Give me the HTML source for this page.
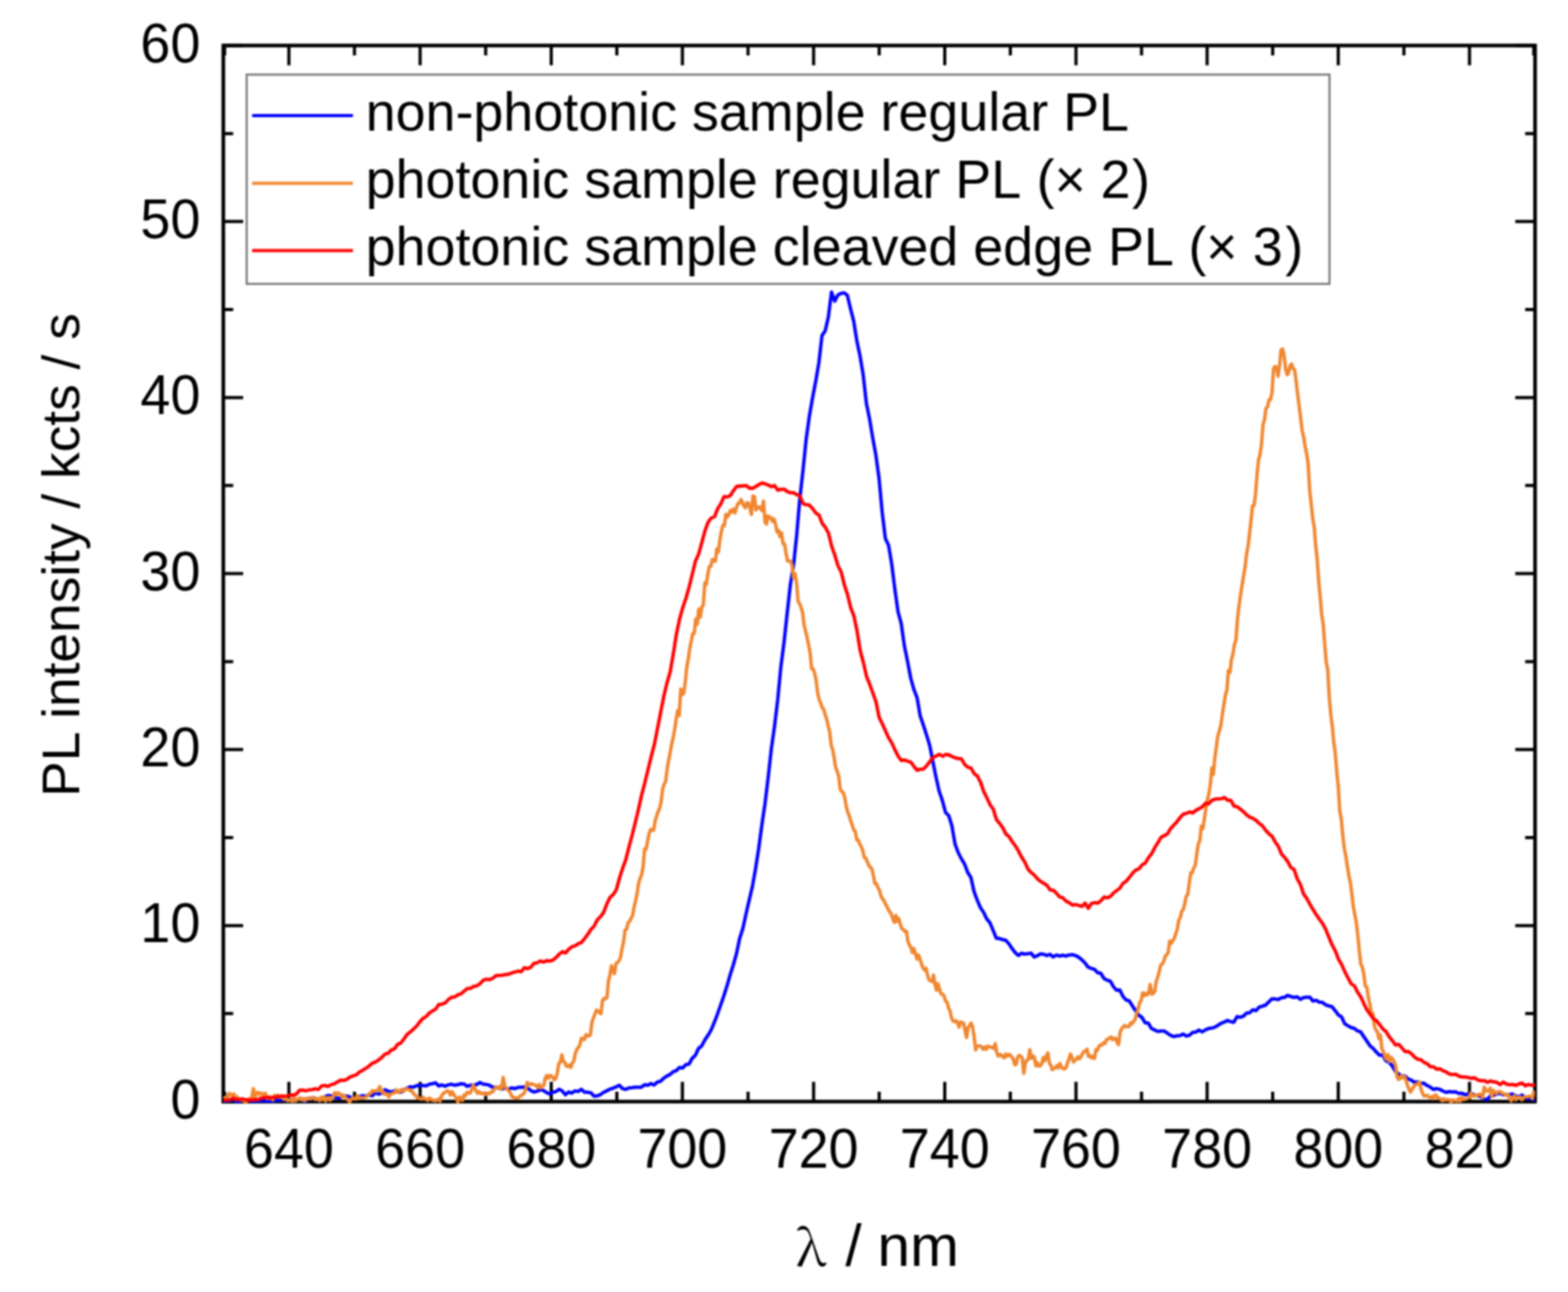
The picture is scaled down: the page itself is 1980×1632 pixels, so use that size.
<!DOCTYPE html>
<html><head><meta charset="utf-8"><title>PL spectra</title>
<style>
html,body{margin:0;padding:0;background:#fff;}
svg{display:block;filter:blur(1px);}
svg{font-family:"Liberation Sans",Arial,sans-serif;} text{fill:#000;}
</style></head>
<body>
<svg width="1980" height="1632" viewBox="0 0 1980 1632">
<rect width="1980" height="1632" fill="#ffffff"/>
<defs><clipPath id="pa"><rect x="282.0" y="57.5" width="1656.4" height="1337.0"/></clipPath></defs>
<path d="M283.6,1391.5V1379.0M283.6,57.5V70.0M364.8,1391.5V1366.5M364.8,57.5V82.5M447.6,1391.5V1379.0M447.6,57.5V70.0M530.5,1391.5V1366.5M530.5,57.5V82.5M613.3,1391.5V1379.0M613.3,57.5V70.0M696.1,1391.5V1366.5M696.1,57.5V82.5M778.9,1391.5V1379.0M778.9,57.5V70.0M861.7,1391.5V1366.5M861.7,57.5V82.5M944.6,1391.5V1379.0M944.6,57.5V70.0M1027.4,1391.5V1366.5M1027.4,57.5V82.5M1110.2,1391.5V1379.0M1110.2,57.5V70.0M1193.0,1391.5V1366.5M1193.0,57.5V82.5M1275.8,1391.5V1379.0M1275.8,57.5V70.0M1358.7,1391.5V1366.5M1358.7,57.5V82.5M1441.5,1391.5V1379.0M1441.5,57.5V70.0M1524.3,1391.5V1366.5M1524.3,57.5V82.5M1607.1,1391.5V1379.0M1607.1,57.5V70.0M1689.9,1391.5V1366.5M1689.9,57.5V82.5M1772.8,1391.5V1379.0M1772.8,57.5V70.0M1855.6,1391.5V1366.5M1855.6,57.5V82.5M1936.8,1391.5V1379.0M1936.8,57.5V70.0M282.0,1391.5H307.0M1938.4,1391.5H1913.4M282.0,1280.3H294.5M1938.4,1280.3H1925.9M282.0,1169.2H307.0M1938.4,1169.2H1913.4M282.0,1058.0H294.5M1938.4,1058.0H1925.9M282.0,946.8H307.0M1938.4,946.8H1913.4M282.0,835.7H294.5M1938.4,835.7H1925.9M282.0,724.5H307.0M1938.4,724.5H1913.4M282.0,613.3H294.5M1938.4,613.3H1925.9M282.0,502.2H307.0M1938.4,502.2H1913.4M282.0,391.0H294.5M1938.4,391.0H1925.9M282.0,279.8H307.0M1938.4,279.8H1913.4M282.0,168.7H294.5M1938.4,168.7H1925.9M282.0,57.5H307.0M1938.4,57.5H1913.4" stroke="#000" stroke-width="4" fill="none"/>
<rect x="282.0" y="57.5" width="1656.4" height="1334.0" fill="none" stroke="#000" stroke-width="4.6"/>
<g font-size="68">
<text transform="translate(364.8,1474.5) scale(1,1.04)" text-anchor="middle">640</text>
<text transform="translate(530.5,1474.5) scale(1,1.04)" text-anchor="middle">660</text>
<text transform="translate(696.1,1474.5) scale(1,1.04)" text-anchor="middle">680</text>
<text transform="translate(861.7,1474.5) scale(1,1.04)" text-anchor="middle">700</text>
<text transform="translate(1027.4,1474.5) scale(1,1.04)" text-anchor="middle">720</text>
<text transform="translate(1193.0,1474.5) scale(1,1.04)" text-anchor="middle">740</text>
<text transform="translate(1358.7,1474.5) scale(1,1.04)" text-anchor="middle">760</text>
<text transform="translate(1524.3,1474.5) scale(1,1.04)" text-anchor="middle">780</text>
<text transform="translate(1689.9,1474.5) scale(1,1.04)" text-anchor="middle">800</text>
<text transform="translate(1855.6,1474.5) scale(1,1.04)" text-anchor="middle">820</text>
<text transform="translate(253,1412.5) scale(1,1.04)" text-anchor="end">0</text>
<text transform="translate(253,1190.2) scale(1,1.04)" text-anchor="end">10</text>
<text transform="translate(253,967.8) scale(1,1.04)" text-anchor="end">20</text>
<text transform="translate(253,745.5) scale(1,1.04)" text-anchor="end">30</text>
<text transform="translate(253,523.2) scale(1,1.04)" text-anchor="end">40</text>
<text transform="translate(253,300.8) scale(1,1.04)" text-anchor="end">50</text>
<text transform="translate(253,78.5) scale(1,1.04)" text-anchor="end">60</text>
</g>
<g clip-path="url(#pa)" fill="none" stroke-width="4.3" stroke-linejoin="round" stroke-linecap="round">
<polyline stroke="#0000ff" points="282.0,1391.2 286.0,1390.2 290.0,1390.0 294.0,1387.8 298.0,1391.7 302.0,1391.1 306.0,1389.8 310.0,1391.0 314.0,1390.7 318.0,1390.1 322.0,1391.7 326.0,1390.7 330.0,1390.7 334.0,1390.2 338.0,1391.2 342.0,1390.5 346.0,1390.8 350.0,1389.4 354.0,1389.8 358.0,1388.6 362.0,1390.0 366.0,1389.2 370.0,1389.3 374.0,1389.4 378.0,1388.0 382.0,1389.8 386.0,1391.0 390.0,1387.4 394.0,1387.3 398.0,1387.5 402.0,1389.5 406.0,1387.0 410.0,1385.7 414.0,1383.8 418.0,1384.1 422.0,1386.4 426.0,1386.8 430.0,1387.3 434.0,1384.4 438.0,1384.6 442.0,1385.6 446.0,1388.2 450.0,1386.2 454.0,1385.0 458.0,1384.0 462.0,1384.7 466.0,1382.9 470.0,1384.1 474.0,1380.2 478.0,1382.2 482.0,1380.4 486.0,1376.5 490.0,1378.2 494.0,1379.3 498.0,1378.1 502.0,1379.0 506.0,1379.8 510.0,1376.5 514.0,1374.7 518.0,1372.8 522.0,1373.2 526.0,1371.5 530.0,1371.2 534.0,1371.1 538.0,1371.7 542.0,1369.6 546.0,1368.9 550.0,1367.8 554.0,1371.8 558.0,1370.4 562.0,1372.0 566.0,1370.3 570.0,1369.5 574.0,1370.8 578.0,1370.2 582.0,1368.9 586.0,1369.3 590.0,1372.3 594.0,1370.7 598.0,1370.8 602.0,1369.8 606.0,1367.4 610.0,1369.4 614.0,1369.8 618.0,1370.9 622.0,1373.3 626.0,1373.1 630.0,1374.6 634.0,1375.8 638.0,1373.8 642.0,1376.4 646.0,1374.2 650.0,1375.2 654.0,1373.6 658.0,1373.3 662.0,1373.1 666.0,1374.3 670.0,1377.4 674.0,1379.3 678.0,1378.5 682.0,1376.5 686.0,1377.3 690.0,1380.1 694.0,1381.8 698.0,1379.6 702.0,1378.9 706.0,1375.9 710.0,1378.1 714.0,1382.8 718.0,1379.4 722.0,1380.8 726.0,1378.0 730.0,1378.7 734.0,1375.9 738.0,1379.5 742.0,1379.6 746.0,1380.3 750.0,1384.5 754.0,1384.3 758.0,1382.9 762.0,1379.9 766.0,1378.0 770.0,1375.8 774.0,1374.6 778.0,1372.9 782.0,1370.8 786.0,1375.0 790.0,1376.1 794.0,1374.3 798.0,1373.9 802.0,1373.4 806.0,1373.4 810.0,1373.3 814.0,1370.1 818.0,1370.8 822.0,1368.7 826.0,1370.5 830.0,1366.9 834.0,1365.9 838.0,1362.0 842.0,1359.2 846.0,1357.3 850.0,1353.8 854.0,1352.4 858.0,1348.3 862.0,1349.1 866.0,1344.8 870.0,1344.2 874.0,1336.9 878.0,1333.2 882.0,1324.5 886.0,1321.3 890.0,1313.7 894.0,1307.8 898.0,1301.0 902.0,1291.4 906.0,1280.9 910.0,1269.6 914.0,1258.0 918.0,1245.4 922.0,1231.4 926.0,1218.8 930.0,1204.7 934.0,1185.4 938.0,1173.0 942.0,1154.6 946.0,1137.3 950.0,1120.3 954.0,1097.9 958.0,1072.1 962.0,1042.4 966.0,1015.3 970.0,982.3 974.0,946.0 978.0,917.8 982.0,884.4 986.0,842.7 990.0,811.8 994.0,774.8 998.0,738.7 1002.0,714.5 1006.0,676.3 1010.0,629.6 1014.0,593.9 1018.0,554.7 1022.0,525.9 1026.0,502.9 1030.0,482.0 1034.0,458.5 1038.0,423.8 1042.0,418.0 1046.0,400.4 1050.0,369.0 1054.0,380.4 1058.0,372.7 1062.0,370.6 1066.0,369.9 1070.0,373.0 1074.0,390.0 1078.0,405.5 1082.0,430.6 1086.0,449.6 1090.0,473.5 1094.0,509.2 1098.0,528.9 1102.0,553.0 1106.0,574.7 1110.0,603.9 1114.0,647.2 1118.0,680.3 1122.0,688.6 1126.0,712.4 1130.0,744.3 1134.0,772.8 1138.0,787.5 1142.0,815.7 1146.0,835.4 1150.0,856.5 1154.0,870.8 1158.0,881.2 1162.0,904.4 1166.0,916.0 1170.0,928.3 1174.0,941.6 1178.0,962.0 1182.0,981.9 1186.0,999.6 1190.0,1011.3 1194.0,1026.2 1198.0,1030.2 1202.0,1043.2 1206.0,1066.3 1210.0,1076.9 1214.0,1084.9 1218.0,1091.4 1222.0,1102.0 1226.0,1108.4 1230.0,1126.3 1234.0,1137.0 1238.0,1146.4 1242.0,1152.4 1246.0,1160.7 1250.0,1165.5 1254.0,1175.0 1258.0,1185.0 1262.0,1185.5 1266.0,1186.9 1270.0,1187.7 1274.0,1192.1 1278.0,1198.2 1282.0,1203.3 1286.0,1206.9 1290.0,1204.1 1294.0,1205.2 1298.0,1204.7 1302.0,1204.0 1306.0,1208.8 1310.0,1207.2 1314.0,1204.9 1318.0,1205.4 1322.0,1207.0 1326.0,1205.5 1330.0,1208.8 1334.0,1206.3 1338.0,1207.7 1342.0,1206.7 1346.0,1207.6 1350.0,1206.3 1354.0,1205.9 1358.0,1207.0 1362.0,1209.0 1366.0,1212.4 1370.0,1216.2 1374.0,1221.6 1378.0,1223.3 1382.0,1224.4 1386.0,1228.6 1390.0,1229.4 1394.0,1235.9 1398.0,1238.1 1402.0,1239.2 1406.0,1246.4 1410.0,1250.9 1414.0,1250.5 1418.0,1258.6 1422.0,1263.1 1426.0,1264.3 1430.0,1270.7 1434.0,1276.7 1438.0,1282.4 1442.0,1285.1 1446.0,1291.9 1450.0,1292.4 1454.0,1299.1 1458.0,1301.0 1462.0,1302.9 1466.0,1302.3 1470.0,1302.4 1474.0,1304.9 1478.0,1307.7 1482.0,1309.3 1486.0,1308.3 1490.0,1308.2 1494.0,1306.1 1498.0,1308.7 1502.0,1307.6 1506.0,1304.1 1510.0,1303.6 1514.0,1301.2 1518.0,1303.5 1522.0,1301.0 1526.0,1299.2 1530.0,1298.7 1534.0,1297.5 1538.0,1295.1 1542.0,1292.6 1546.0,1291.1 1550.0,1289.0 1554.0,1290.5 1558.0,1291.3 1562.0,1284.2 1566.0,1285.0 1570.0,1283.6 1574.0,1279.7 1578.0,1279.3 1582.0,1275.5 1586.0,1276.6 1590.0,1272.1 1594.0,1271.0 1598.0,1269.6 1602.0,1265.7 1606.0,1261.7 1610.0,1261.9 1614.0,1262.6 1618.0,1260.4 1622.0,1259.9 1626.0,1257.4 1630.0,1258.8 1634.0,1259.8 1638.0,1259.1 1642.0,1262.4 1646.0,1260.1 1650.0,1259.7 1654.0,1259.7 1658.0,1264.5 1662.0,1263.5 1666.0,1265.9 1670.0,1266.2 1674.0,1269.2 1678.0,1270.7 1682.0,1271.6 1686.0,1276.6 1690.0,1282.1 1694.0,1284.4 1698.0,1293.0 1702.0,1295.7 1706.0,1297.8 1710.0,1298.8 1714.0,1302.1 1718.0,1303.2 1722.0,1309.2 1726.0,1315.0 1730.0,1321.1 1734.0,1324.4 1738.0,1329.0 1742.0,1332.9 1746.0,1332.7 1750.0,1339.9 1754.0,1341.8 1758.0,1346.3 1762.0,1353.1 1766.0,1356.5 1770.0,1359.4 1774.0,1359.0 1778.0,1362.6 1782.0,1364.4 1786.0,1367.1 1790.0,1366.7 1794.0,1368.5 1798.0,1368.2 1802.0,1371.2 1806.0,1373.2 1810.0,1376.1 1814.0,1375.1 1818.0,1376.0 1822.0,1378.1 1826.0,1379.9 1830.0,1378.8 1834.0,1379.3 1838.0,1379.1 1842.0,1381.1 1846.0,1381.0 1850.0,1382.8 1854.0,1381.9 1858.0,1381.5 1862.0,1383.1 1866.0,1384.0 1870.0,1385.1 1874.0,1388.6 1878.0,1388.7 1882.0,1384.3 1886.0,1383.5 1890.0,1382.0 1894.0,1381.0 1898.0,1382.8 1902.0,1382.8 1906.0,1382.6 1910.0,1382.0 1914.0,1384.5 1918.0,1385.4 1922.0,1383.2 1926.0,1387.1 1930.0,1388.0 1934.0,1387.8 1938.0,1389.3"/>
<polyline stroke="#f0862f" points="282.0,1387.5 283.9,1386.4 285.8,1387.0 287.7,1384.6 289.6,1381.0 291.5,1382.9 293.4,1382.9 295.3,1381.8 297.2,1386.4 299.1,1385.3 301.0,1388.0 302.9,1389.0 304.8,1389.2 306.7,1390.0 308.6,1390.9 310.5,1392.5 312.4,1388.7 314.3,1389.1 316.2,1388.0 318.1,1384.9 320.0,1375.2 321.9,1387.3 323.8,1380.6 325.7,1379.7 327.6,1382.5 329.5,1380.6 331.4,1381.5 333.3,1384.5 335.2,1380.9 337.1,1387.6 339.0,1387.4 340.9,1385.4 342.8,1387.8 344.7,1389.2 346.6,1383.7 348.5,1384.7 350.4,1383.2 352.3,1385.3 354.2,1385.9 356.1,1384.5 358.0,1388.4 359.9,1388.2 361.8,1389.1 363.7,1390.4 365.6,1388.8 367.5,1390.0 369.4,1391.0 371.3,1386.6 373.2,1390.6 375.1,1388.4 377.0,1388.6 378.9,1386.8 380.8,1389.2 382.7,1387.6 384.6,1390.3 386.5,1387.3 388.4,1388.3 390.3,1387.7 392.2,1388.3 394.1,1386.4 396.0,1386.2 397.9,1388.7 399.8,1388.7 401.7,1387.7 403.6,1390.2 405.5,1386.0 407.4,1389.0 409.3,1385.4 411.2,1390.8 413.1,1386.9 415.0,1386.4 416.9,1389.8 418.8,1386.2 420.7,1385.6 422.6,1380.3 424.5,1382.9 426.4,1380.3 428.3,1381.5 430.2,1382.1 432.1,1386.3 434.0,1383.4 435.9,1385.9 437.8,1387.5 439.7,1389.8 441.6,1391.9 443.5,1388.7 445.4,1386.6 447.3,1387.8 449.2,1388.3 451.1,1383.9 453.0,1387.7 454.9,1386.3 456.8,1386.8 458.7,1386.8 460.6,1386.5 462.5,1385.2 464.4,1384.3 466.3,1381.3 468.2,1381.3 470.1,1377.7 472.0,1378.6 473.9,1377.8 475.8,1378.4 477.7,1376.7 479.6,1372.4 481.5,1378.8 483.4,1378.5 485.3,1382.3 487.2,1381.9 489.1,1382.5 491.0,1385.6 492.9,1382.3 494.8,1381.5 496.7,1380.7 498.6,1380.3 500.5,1376.6 502.4,1378.4 504.3,1380.2 506.2,1376.5 508.1,1376.5 510.0,1378.4 511.9,1376.1 513.8,1375.1 515.7,1376.1 517.6,1377.6 519.5,1377.0 521.4,1380.6 523.3,1382.5 525.2,1384.2 527.1,1386.9 529.0,1386.6 530.9,1388.1 532.8,1388.3 534.7,1386.1 536.6,1388.5 538.5,1388.6 540.4,1390.0 542.3,1387.0 544.2,1388.1 546.1,1389.8 548.0,1389.6 549.9,1390.6 551.8,1389.4 553.7,1388.1 555.6,1390.9 557.5,1384.7 559.4,1381.5 561.3,1380.2 563.2,1379.0 565.1,1377.7 567.0,1379.4 568.9,1383.4 570.8,1379.0 572.7,1382.2 574.6,1384.6 576.5,1387.6 578.4,1392.5 580.3,1385.6 582.2,1388.1 584.1,1389.9 586.0,1382.9 587.9,1384.3 589.8,1379.7 591.7,1380.3 593.6,1380.8 595.5,1377.1 597.4,1370.7 599.3,1374.4 601.2,1378.1 603.1,1381.0 605.0,1378.7 606.9,1381.3 608.8,1381.0 610.7,1380.8 612.6,1382.8 614.5,1381.1 616.4,1380.8 618.3,1381.6 620.2,1379.2 622.1,1379.3 624.0,1376.6 625.9,1373.2 627.8,1373.6 629.7,1374.9 631.6,1371.9 633.5,1375.6 635.4,1360.8 637.3,1371.2 639.2,1374.7 641.1,1376.5 643.0,1378.5 644.9,1381.6 646.8,1385.6 648.7,1386.1 650.6,1386.8 652.5,1387.2 654.4,1387.0 656.3,1384.5 658.2,1384.2 660.1,1382.3 662.0,1380.7 663.9,1375.8 665.8,1367.3 667.7,1369.4 669.6,1370.1 671.5,1368.9 673.4,1370.0 675.3,1370.3 677.2,1371.4 679.1,1373.8 681.0,1369.8 682.9,1374.0 684.8,1371.9 686.7,1371.1 688.6,1361.5 690.5,1358.6 692.4,1362.2 694.3,1358.6 696.2,1358.9 698.1,1361.2 700.0,1363.9 701.9,1362.0 703.8,1355.1 705.7,1343.3 707.6,1341.6 709.5,1332.4 711.4,1340.8 713.3,1342.3 715.2,1346.6 717.1,1347.1 719.0,1345.3 720.9,1348.4 722.8,1342.8 724.7,1339.8 726.6,1330.2 728.5,1325.4 730.4,1323.1 732.3,1319.7 734.2,1311.5 736.1,1312.5 738.0,1313.2 739.9,1307.0 741.8,1307.9 743.7,1308.9 745.6,1306.8 747.5,1291.1 749.4,1285.6 751.3,1280.8 753.2,1276.0 755.1,1277.0 757.0,1279.0 758.9,1280.5 760.8,1263.7 762.7,1261.1 764.6,1261.7 766.5,1260.0 768.4,1238.6 770.3,1231.2 772.2,1219.9 774.1,1227.0 776.0,1229.7 777.9,1216.9 779.8,1216.0 781.7,1213.5 783.6,1209.2 785.5,1198.4 787.4,1189.8 789.3,1174.7 791.2,1173.9 793.1,1165.5 795.0,1164.0 796.9,1159.8 798.8,1156.7 800.7,1145.6 802.6,1138.0 804.5,1128.5 806.4,1116.1 808.3,1109.1 810.2,1105.1 812.1,1095.0 814.0,1072.5 815.9,1072.7 817.8,1062.2 819.7,1053.0 821.6,1047.6 823.5,1048.8 825.4,1048.7 827.3,1037.1 829.2,1030.6 831.1,1025.0 833.0,1020.9 834.9,1012.3 836.8,996.3 838.7,990.8 840.6,986.8 842.5,970.9 844.4,960.0 846.3,950.7 848.2,939.7 850.1,931.5 852.0,920.8 853.9,908.4 855.8,897.5 857.7,903.8 859.6,870.5 861.5,877.6 863.4,875.8 865.3,862.0 867.2,842.8 869.1,832.5 871.0,819.1 872.9,809.8 874.8,800.3 876.7,799.8 878.6,781.8 880.5,788.3 882.4,769.3 884.3,779.6 886.2,766.9 888.1,764.3 890.0,736.5 891.9,738.3 893.8,725.4 895.7,715.6 897.6,715.3 899.5,706.7 901.4,708.9 903.3,708.9 905.2,693.3 907.1,697.4 909.0,682.3 910.9,671.4 912.8,663.5 914.7,663.6 916.6,649.7 918.5,653.0 920.4,649.9 922.3,644.7 924.2,646.7 926.1,643.0 928.0,648.1 929.9,641.7 931.8,635.8 933.7,635.9 935.6,630.9 937.5,634.2 939.4,639.2 941.3,641.3 943.2,635.0 945.1,635.3 947.0,641.8 948.9,649.8 950.8,626.4 952.7,627.4 954.6,644.3 956.5,641.0 958.4,640.1 960.3,642.6 962.2,644.8 964.1,632.9 966.0,659.3 967.9,661.9 969.8,651.5 971.7,654.3 973.6,653.8 975.5,658.8 977.4,655.6 979.3,661.7 981.2,672.0 983.1,670.0 985.0,678.0 986.9,673.1 988.8,686.8 990.7,687.2 992.6,698.9 994.5,708.7 996.4,708.4 998.3,709.2 1000.2,713.9 1002.1,730.2 1004.0,724.6 1005.9,736.5 1007.8,759.1 1009.7,762.6 1011.6,767.3 1013.5,773.7 1015.4,789.8 1017.3,797.3 1019.2,805.5 1021.1,814.6 1023.0,824.9 1024.9,844.5 1026.8,845.1 1028.7,850.0 1030.6,859.7 1032.5,875.1 1034.4,883.6 1036.3,888.0 1038.2,893.9 1040.1,895.7 1042.0,902.7 1043.9,908.4 1045.8,917.0 1047.7,924.6 1049.6,941.5 1051.5,947.1 1053.4,957.5 1055.3,969.5 1057.2,974.3 1059.1,980.6 1061.0,996.9 1062.9,1000.0 1064.8,1000.9 1066.7,1007.7 1068.6,1018.4 1070.5,1025.9 1072.4,1030.5 1074.3,1037.0 1076.2,1042.2 1078.1,1048.5 1080.0,1049.9 1081.9,1060.9 1083.8,1061.4 1085.7,1066.2 1087.6,1069.3 1089.5,1074.4 1091.4,1083.4 1093.3,1083.8 1095.2,1088.6 1097.1,1093.0 1099.0,1095.9 1100.9,1097.0 1102.8,1105.5 1104.7,1115.9 1106.6,1116.1 1108.5,1121.0 1110.4,1124.1 1112.3,1131.5 1114.2,1135.2 1116.1,1137.2 1118.0,1141.8 1119.9,1144.8 1121.8,1149.0 1123.7,1152.0 1125.6,1154.7 1127.5,1160.9 1129.4,1165.1 1131.3,1156.2 1133.2,1163.7 1135.1,1160.4 1137.0,1168.0 1138.9,1173.1 1140.8,1174.3 1142.7,1176.5 1144.6,1176.3 1146.5,1189.1 1148.4,1193.6 1150.3,1196.8 1152.2,1203.5 1154.1,1198.3 1156.0,1204.6 1157.9,1211.4 1159.8,1206.2 1161.7,1211.3 1163.6,1217.6 1165.5,1222.4 1167.4,1225.4 1169.3,1223.0 1171.2,1231.5 1173.1,1237.7 1175.0,1238.8 1176.9,1240.0 1178.8,1231.8 1180.7,1243.9 1182.6,1250.9 1184.5,1242.5 1186.4,1249.5 1188.3,1255.4 1190.2,1256.1 1192.1,1257.8 1194.0,1264.6 1195.9,1265.6 1197.8,1273.5 1199.7,1276.6 1201.6,1285.9 1203.5,1289.9 1205.4,1290.4 1207.3,1289.2 1209.2,1292.2 1211.1,1297.5 1213.0,1290.7 1214.9,1292.5 1216.8,1292.1 1218.7,1302.3 1220.6,1310.5 1222.5,1297.7 1224.4,1295.8 1226.3,1292.3 1228.2,1297.6 1230.1,1309.4 1232.0,1326.2 1233.9,1321.4 1235.8,1321.2 1237.7,1321.1 1239.6,1323.0 1241.5,1325.3 1243.4,1322.6 1245.3,1325.5 1247.2,1321.4 1249.1,1322.3 1251.0,1322.6 1252.9,1323.3 1254.8,1324.5 1256.7,1318.3 1258.6,1329.3 1260.5,1333.9 1262.4,1332.2 1264.3,1332.2 1266.2,1335.0 1268.1,1336.2 1270.0,1331.6 1271.9,1334.2 1273.8,1331.9 1275.7,1332.6 1277.6,1335.3 1279.5,1337.6 1281.4,1345.0 1283.3,1344.2 1285.2,1335.0 1287.1,1333.1 1289.0,1334.1 1290.9,1336.3 1292.8,1355.8 1294.7,1342.9 1296.6,1339.5 1298.5,1338.0 1300.4,1325.9 1302.3,1336.9 1304.2,1333.8 1306.1,1335.2 1308.0,1346.4 1309.9,1342.4 1311.8,1346.7 1313.7,1346.2 1315.6,1343.6 1317.5,1335.6 1319.4,1339.8 1321.3,1333.9 1323.2,1330.0 1325.1,1343.0 1327.0,1345.6 1328.9,1351.2 1330.8,1349.4 1332.7,1349.0 1334.6,1345.8 1336.5,1349.0 1338.4,1343.4 1340.3,1347.7 1342.2,1349.9 1344.1,1350.2 1346.0,1348.8 1347.9,1343.1 1349.8,1337.7 1351.7,1331.4 1353.6,1335.6 1355.5,1341.5 1357.4,1339.7 1359.3,1337.8 1361.2,1334.9 1363.1,1337.5 1365.0,1334.9 1366.9,1331.0 1368.8,1328.1 1370.7,1328.1 1372.6,1325.2 1374.5,1334.4 1376.4,1333.5 1378.3,1336.2 1380.2,1334.1 1382.1,1337.0 1384.0,1325.7 1385.9,1326.6 1387.8,1321.6 1389.7,1319.9 1391.6,1320.1 1393.5,1317.3 1395.4,1318.1 1397.3,1313.0 1399.2,1312.7 1401.1,1310.9 1403.0,1309.9 1404.9,1313.3 1406.8,1311.5 1408.7,1311.4 1410.6,1316.9 1412.5,1319.5 1414.4,1304.0 1416.3,1299.7 1418.2,1297.1 1420.1,1295.3 1422.0,1296.9 1423.9,1296.6 1425.8,1296.5 1427.7,1292.3 1429.6,1293.0 1431.5,1290.1 1433.4,1287.6 1435.3,1279.6 1437.2,1274.6 1439.1,1266.4 1441.0,1264.0 1442.9,1254.2 1444.8,1257.7 1446.7,1254.8 1448.6,1256.8 1450.5,1254.4 1452.4,1243.5 1454.3,1255.6 1456.2,1255.0 1458.1,1252.2 1460.0,1239.8 1461.9,1234.6 1463.8,1227.6 1465.7,1219.1 1467.6,1217.8 1469.5,1214.5 1471.4,1207.9 1473.3,1206.1 1475.2,1202.7 1477.1,1188.6 1479.0,1191.6 1480.9,1188.3 1482.8,1185.3 1484.7,1179.3 1486.6,1173.7 1488.5,1162.3 1490.4,1159.0 1492.3,1150.9 1494.2,1148.8 1496.1,1141.4 1498.0,1132.0 1499.9,1129.7 1501.8,1115.3 1503.7,1102.4 1505.6,1102.4 1507.5,1096.2 1509.4,1092.7 1511.3,1078.3 1513.2,1066.2 1515.1,1061.7 1517.0,1043.3 1518.9,1046.9 1520.8,1034.2 1522.7,1021.2 1524.6,1010.5 1526.5,1003.1 1528.4,990.6 1530.3,969.9 1532.2,978.2 1534.1,956.6 1536.0,943.1 1537.9,929.2 1539.8,923.3 1541.7,916.1 1543.6,902.3 1545.5,889.6 1547.4,878.1 1549.3,871.5 1551.2,846.9 1553.1,849.5 1555.0,833.3 1556.9,826.1 1558.8,814.0 1560.7,808.8 1562.6,782.5 1564.5,765.7 1566.4,752.2 1568.3,740.2 1570.2,728.3 1572.1,717.4 1574.0,700.9 1575.9,690.2 1577.8,674.7 1579.7,657.9 1581.6,639.0 1583.5,638.5 1585.4,624.7 1587.3,599.7 1589.2,580.9 1591.1,574.3 1593.0,561.3 1594.9,536.3 1596.8,530.0 1598.7,515.5 1600.6,513.9 1602.5,505.0 1604.4,504.8 1606.3,495.1 1608.2,465.2 1610.1,462.9 1612.0,464.1 1613.9,475.3 1615.8,461.3 1617.7,441.9 1619.6,440.7 1621.5,449.3 1623.4,466.1 1625.3,473.3 1627.2,471.2 1629.1,461.6 1631.0,459.9 1632.9,465.9 1634.8,466.9 1636.7,481.7 1638.6,497.9 1640.5,512.9 1642.4,528.0 1644.3,544.3 1646.2,551.6 1648.1,564.1 1650.0,573.2 1651.9,585.8 1653.8,619.2 1655.7,636.5 1657.6,654.7 1659.5,665.1 1661.4,689.3 1663.3,706.2 1665.2,733.7 1667.1,754.1 1669.0,776.7 1670.9,788.4 1672.8,813.8 1674.7,836.1 1676.6,845.5 1678.5,879.9 1680.4,901.7 1682.3,916.6 1684.2,937.4 1686.1,950.8 1688.0,974.9 1689.9,993.4 1691.8,1024.3 1693.7,1034.6 1695.6,1055.0 1697.5,1071.6 1699.4,1081.2 1701.3,1093.8 1703.2,1105.5 1705.1,1114.2 1707.0,1128.7 1708.9,1144.9 1710.8,1155.3 1712.7,1165.0 1714.6,1181.6 1716.5,1201.1 1718.4,1218.2 1720.3,1221.3 1722.2,1231.0 1724.1,1245.6 1726.0,1246.8 1727.9,1259.7 1729.8,1268.4 1731.7,1279.1 1733.6,1280.1 1735.5,1295.7 1737.4,1301.1 1739.3,1303.1 1741.2,1311.7 1743.1,1307.5 1745.0,1324.9 1746.9,1328.0 1748.8,1334.6 1750.7,1338.0 1752.6,1331.9 1754.5,1341.0 1756.4,1335.8 1758.3,1337.3 1760.2,1340.6 1762.1,1345.1 1764.0,1359.4 1765.9,1363.5 1767.8,1362.6 1769.7,1358.8 1771.6,1361.4 1773.5,1359.6 1775.4,1364.2 1777.3,1371.0 1779.2,1375.7 1781.1,1379.6 1783.0,1375.9 1784.9,1373.3 1786.8,1370.2 1788.7,1369.9 1790.6,1368.3 1792.5,1366.7 1794.4,1375.8 1796.3,1381.1 1798.2,1384.3 1800.1,1384.4 1802.0,1383.4 1803.9,1385.6 1805.8,1386.3 1807.7,1385.3 1809.6,1387.7 1811.5,1383.8 1813.4,1383.1 1815.3,1387.4 1817.2,1387.0 1819.1,1388.2 1821.0,1390.5 1822.9,1387.9 1824.8,1389.7 1826.7,1389.1 1828.6,1389.0 1830.5,1389.4 1832.4,1392.5 1834.3,1389.4 1836.2,1390.0 1838.1,1390.3 1840.0,1390.9 1841.9,1387.5 1843.8,1390.8 1845.7,1386.3 1847.6,1389.0 1849.5,1388.5 1851.4,1388.1 1853.3,1387.3 1855.2,1386.6 1857.1,1380.8 1859.0,1383.9 1860.9,1384.8 1862.8,1383.0 1864.7,1384.4 1866.6,1382.5 1868.5,1382.2 1870.4,1382.3 1872.3,1386.5 1874.2,1373.1 1876.1,1378.2 1878.0,1377.4 1879.9,1378.4 1881.8,1374.5 1883.7,1385.3 1885.6,1377.3 1887.5,1379.1 1889.4,1381.4 1891.3,1379.2 1893.2,1378.6 1895.1,1379.5 1897.0,1381.0 1898.9,1381.4 1900.8,1383.1 1902.7,1383.9 1904.6,1382.3 1906.5,1387.9 1908.4,1390.6 1910.3,1386.9 1912.2,1384.2 1914.1,1389.3 1916.0,1386.2 1917.9,1386.2 1919.8,1385.6 1921.7,1389.4 1923.6,1387.1 1925.5,1385.4 1927.4,1385.4 1929.3,1385.3 1931.2,1384.7 1933.1,1385.3 1935.0,1387.6 1936.9,1379.6"/>
<polyline stroke="#ff0000" points="282.2,1389.7 286.2,1389.7 290.2,1389.0 294.2,1387.2 298.2,1389.2 302.2,1388.7 306.2,1388.0 310.2,1389.4 314.2,1389.5 318.2,1389.7 322.2,1389.2 326.2,1389.0 330.2,1386.9 334.2,1386.7 338.2,1386.0 342.2,1386.7 346.2,1386.0 350.2,1385.4 354.2,1384.6 358.2,1384.7 362.2,1384.3 366.2,1383.0 370.2,1383.4 374.2,1382.0 378.2,1377.2 382.2,1377.0 386.2,1377.8 390.2,1376.7 394.2,1376.4 398.2,1375.4 402.2,1376.1 406.2,1371.6 410.2,1371.1 414.2,1372.4 418.2,1370.0 422.2,1369.1 426.2,1366.7 430.2,1364.3 434.2,1364.8 438.2,1363.2 442.2,1360.2 446.2,1358.9 450.2,1357.4 454.2,1353.8 458.2,1351.8 462.2,1349.2 466.2,1346.4 470.2,1343.0 474.2,1341.4 478.2,1338.9 482.2,1335.5 486.2,1331.5 490.2,1330.4 494.2,1326.2 498.2,1324.7 502.2,1319.1 506.2,1317.5 510.2,1312.3 514.2,1306.6 518.2,1303.4 522.2,1299.8 526.2,1296.0 530.2,1290.6 534.2,1286.4 538.2,1284.0 542.2,1279.5 546.2,1277.0 550.2,1274.5 554.2,1268.8 558.2,1268.3 562.2,1266.9 566.2,1262.6 570.2,1259.7 574.2,1259.3 578.2,1256.6 582.2,1255.3 586.2,1251.9 590.2,1248.6 594.2,1248.3 598.2,1245.9 602.2,1245.3 606.2,1242.5 610.2,1238.3 614.2,1236.8 618.2,1237.5 622.2,1235.6 626.2,1232.5 630.2,1232.1 634.2,1231.8 638.2,1231.0 642.2,1230.6 646.2,1229.0 650.2,1227.8 654.2,1226.7 658.2,1227.4 662.2,1222.3 666.2,1223.6 670.2,1221.8 674.2,1216.9 678.2,1216.3 682.2,1213.8 686.2,1215.2 690.2,1213.5 694.2,1213.8 698.2,1212.8 702.2,1209.4 706.2,1205.2 710.2,1202.1 714.2,1203.8 718.2,1199.0 722.2,1195.9 726.2,1194.8 730.2,1192.1 734.2,1190.6 738.2,1185.5 742.2,1180.3 746.2,1174.0 750.2,1169.9 754.2,1162.0 758.2,1158.0 762.2,1152.6 766.2,1142.0 770.2,1133.7 774.2,1130.1 778.2,1124.1 782.2,1109.4 786.2,1096.8 790.2,1086.1 794.2,1070.0 798.2,1055.2 802.2,1038.9 806.2,1022.5 810.2,1004.2 814.2,989.1 818.2,972.5 822.2,956.0 826.2,940.9 830.2,920.6 834.2,900.2 838.2,879.6 842.2,862.7 846.2,849.2 850.2,826.1 854.2,800.7 858.2,781.6 862.2,767.3 866.2,755.6 870.2,741.6 874.2,725.3 878.2,708.6 882.2,699.8 886.2,685.5 890.2,670.5 894.2,659.5 898.2,654.2 902.2,652.8 906.2,642.6 910.2,636.5 914.2,627.3 918.2,627.7 922.2,626.1 926.2,619.6 930.2,614.5 934.2,614.0 938.2,613.9 942.2,613.3 946.2,616.5 950.2,616.9 954.2,614.7 958.2,612.1 962.2,610.2 966.2,611.2 970.2,612.7 974.2,614.8 978.2,613.4 982.2,619.2 986.2,618.2 990.2,617.8 994.2,621.0 998.2,622.4 1002.2,622.4 1006.2,624.8 1010.2,626.5 1014.2,636.3 1018.2,637.3 1022.2,638.2 1026.2,642.6 1030.2,648.1 1034.2,650.6 1038.2,661.1 1042.2,666.1 1046.2,673.5 1050.2,690.0 1054.2,701.4 1058.2,714.6 1062.2,722.6 1066.2,738.7 1070.2,750.7 1074.2,767.6 1078.2,777.7 1082.2,796.8 1086.2,821.9 1090.2,836.6 1094.2,854.4 1098.2,864.2 1102.2,875.4 1106.2,886.6 1110.2,906.4 1114.2,914.4 1118.2,923.3 1122.2,932.2 1126.2,938.7 1130.2,947.3 1134.2,955.3 1138.2,960.6 1142.2,960.0 1146.2,961.5 1150.2,962.8 1154.2,968.3 1158.2,973.0 1162.2,971.6 1166.2,971.3 1170.2,967.3 1174.2,961.9 1178.2,956.7 1182.2,954.9 1186.2,952.8 1190.2,955.3 1194.2,953.0 1198.2,953.5 1202.2,955.6 1206.2,957.3 1210.2,958.2 1214.2,958.7 1218.2,965.7 1222.2,969.1 1226.2,970.2 1230.2,977.2 1234.2,980.2 1238.2,988.1 1242.2,999.8 1246.2,1007.9 1250.2,1016.4 1254.2,1021.9 1258.2,1035.2 1262.2,1040.0 1266.2,1045.5 1270.2,1053.5 1274.2,1056.9 1278.2,1063.3 1282.2,1068.5 1286.2,1075.2 1290.2,1082.9 1294.2,1089.2 1298.2,1098.1 1302.2,1102.2 1306.2,1105.6 1310.2,1110.1 1314.2,1113.5 1318.2,1115.9 1322.2,1118.6 1326.2,1124.2 1330.2,1124.5 1334.2,1128.6 1338.2,1133.0 1342.2,1134.1 1346.2,1138.4 1350.2,1140.3 1354.2,1143.3 1358.2,1142.5 1362.2,1143.7 1366.2,1144.9 1370.2,1140.8 1374.2,1147.3 1378.2,1141.3 1382.2,1140.2 1386.2,1140.9 1390.2,1137.7 1394.2,1133.1 1398.2,1134.1 1402.2,1132.2 1406.2,1127.9 1410.2,1124.9 1414.2,1121.9 1418.2,1115.7 1422.2,1113.1 1426.2,1108.2 1430.2,1103.0 1434.2,1098.9 1438.2,1097.4 1442.2,1092.5 1446.2,1090.1 1450.2,1083.5 1454.2,1078.4 1458.2,1070.7 1462.2,1064.3 1466.2,1057.7 1470.2,1055.5 1474.2,1053.3 1478.2,1046.7 1482.2,1042.3 1486.2,1038.0 1490.2,1032.6 1494.2,1028.4 1498.2,1027.4 1502.2,1025.6 1506.2,1026.9 1510.2,1023.5 1514.2,1021.5 1518.2,1019.1 1522.2,1014.6 1526.2,1015.4 1530.2,1011.0 1534.2,1009.4 1538.2,1009.1 1542.2,1008.9 1546.2,1007.3 1550.2,1010.8 1554.2,1011.0 1558.2,1018.1 1562.2,1019.0 1566.2,1022.0 1570.2,1025.4 1574.2,1029.3 1578.2,1032.3 1582.2,1033.7 1586.2,1036.4 1590.2,1040.3 1594.2,1043.2 1598.2,1048.7 1602.2,1053.1 1606.2,1056.3 1610.2,1063.4 1614.2,1068.9 1618.2,1078.8 1622.2,1083.1 1626.2,1088.4 1630.2,1096.0 1634.2,1098.4 1638.2,1110.3 1642.2,1117.5 1646.2,1129.5 1650.2,1134.9 1654.2,1142.4 1658.2,1149.1 1662.2,1155.5 1666.2,1161.2 1670.2,1166.8 1674.2,1174.3 1678.2,1184.3 1682.2,1193.8 1686.2,1201.1 1690.2,1211.7 1694.2,1218.3 1698.2,1227.5 1702.2,1235.3 1706.2,1242.7 1710.2,1245.3 1714.2,1253.1 1718.2,1259.0 1722.2,1267.7 1726.2,1275.8 1730.2,1281.2 1734.2,1286.8 1738.2,1289.3 1742.2,1294.3 1746.2,1299.7 1750.2,1303.0 1754.2,1309.7 1758.2,1314.5 1762.2,1320.0 1766.2,1319.2 1770.2,1323.5 1774.2,1328.4 1778.2,1328.2 1782.2,1330.9 1786.2,1335.2 1790.2,1338.1 1794.2,1338.5 1798.2,1342.0 1802.2,1343.7 1806.2,1347.3 1810.2,1347.6 1814.2,1350.5 1818.2,1350.2 1822.2,1352.5 1826.2,1354.1 1830.2,1356.7 1834.2,1357.3 1838.2,1356.9 1842.2,1359.4 1846.2,1360.4 1850.2,1360.4 1854.2,1361.2 1858.2,1362.1 1862.2,1361.5 1866.2,1364.3 1870.2,1365.2 1874.2,1364.8 1878.2,1367.1 1882.2,1365.4 1886.2,1366.7 1890.2,1367.2 1894.2,1370.1 1898.2,1366.8 1902.2,1369.4 1906.2,1370.1 1910.2,1369.9 1914.2,1371.0 1918.2,1369.1 1922.2,1368.1 1926.2,1371.5 1930.2,1369.8 1934.2,1371.0 1938.2,1370.4"/>
</g>

<rect x="311.5" y="94.2" width="1367.3" height="264.4" fill="#ffffff" stroke="#777777" stroke-width="2.6"/>
<g stroke-width="4">
<line x1="318.4" y1="146" x2="445.7" y2="146" stroke="#0000ff"/>
<line x1="318.4" y1="231.5" x2="445.7" y2="231.5" stroke="#f0862f"/>
<line x1="318.4" y1="316.6" x2="445.7" y2="316.6" stroke="#ff0000"/>
</g>
<g font-size="68">
<text x="461.7" y="164.8">non-photonic sample regular PL</text>
<text x="461.7" y="249.7">photonic sample regular PL <tspan dx="3">(</tspan>× <tspan dx="-0.5">2</tspan><tspan dx="2">)</tspan></text>
<text x="461.7" y="334.6">photonic sample cleaved edge PL <tspan dx="2">(</tspan><tspan dx="-0.5">×</tspan> <tspan dx="0.5">3</tspan><tspan dx="3">)</tspan></text>
</g>
<text transform="translate(1005,1599) scale(1,0.955)" font-size="66" font-family="&quot;Noto Serif CJK SC&quot;, serif">λ</text>
<text y="1599" font-size="74"><tspan x="1067.6">/ </tspan><tspan x="1108">nm</tspan></text>
<text transform="translate(100,1006.5) rotate(-90)" font-size="67.3">PL intensity / kcts / s</text>
</svg>
</body></html>
